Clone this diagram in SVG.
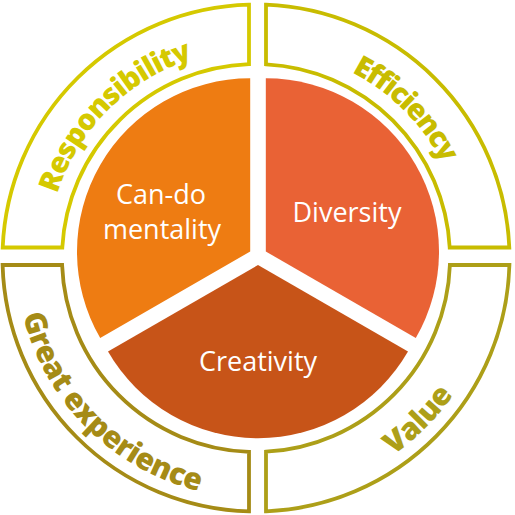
<svg xmlns="http://www.w3.org/2000/svg" width="515" height="515" viewBox="0 0 515 515">
<style>
.ring{fill:#fff;stroke-width:3.8;stroke-linejoin:miter}
.arc{font-family:"Open Sans","Noto Sans",sans-serif;font-weight:800;font-size:30px;letter-spacing:-0.4px}
.top{font-size:29px;letter-spacing:-1px}
.lbl{font-family:"Open Sans","Noto Sans",sans-serif;font-size:27px;fill:#fff;text-anchor:middle}
</style>
<defs>
<path id="pTL" d="M 47 258 A 209 209 0 0 1 256 49"/>
<path id="pTR" d="M 256 49 A 209 209 0 0 1 465 258"/>
<path id="pBL" d="M 16 258 A 240 240 0 0 0 256 498"/>
<path id="pBR" d="M 256 498 A 240 240 0 0 0 496 258"/>
</defs>
<rect width="515" height="515" fill="#fff"/>
<g id="responsibility">
<path class="ring" stroke="#D5C900" d="M 2.7 247.5 A 253.5 253.5 0 0 1 249 4.6 L 249 64.1 A 194 194 0 0 0 62.3 247.5 Z"/>
<text class="arc top" fill="#D5C900"><textPath href="#pTL" startOffset="50%" text-anchor="middle">Responsibility</textPath></text>
</g>
<g id="efficiency">
<path class="ring" stroke="#C8BC00" d="M 266 4.7 A 253.5 253.5 0 0 1 509.3 247.5 L 449.7 247.5 A 194 194 0 0 0 266 64.3 Z"/>
<text class="arc top" fill="#C8BC00" style="letter-spacing:-1.6px"><textPath href="#pTR" startOffset="50%" text-anchor="middle">Efficiency</textPath></text>
</g>
<g id="great-experience">
<path class="ring" stroke="#A58B16" d="M 2.6 265 L 62.1 265 A 194 194 0 0 0 249 451.9 L 249 511.4 A 253.5 253.5 0 0 1 2.6 265 Z"/>
<text class="arc" fill="#A58B16"><textPath href="#pBL" startOffset="50%" text-anchor="middle">Great experience</textPath></text>
</g>
<g id="value">
<path class="ring" stroke="#AD9F18" d="M 449.9 265 L 509.4 265 A 253.5 253.5 0 0 1 266 511.3 L 266 451.7 A 194 194 0 0 0 449.9 265 Z"/>
<text class="arc" fill="#AD9F18"><textPath href="#pBR" startOffset="50%" text-anchor="middle">Value</textPath></text>
</g>
<g id="can-do">
<path fill="#EE7C12" d="M 250.2 251.5 L 250.2 78.3 A 173.2 173.2 0 0 0 100.2 338.1 Z"/>
<text class="lbl" x="161" y="204">Can-do</text>
<text class="lbl" x="162" y="239">mentality</text>
</g>
<g id="diversity">
<path fill="#E96235" d="M 265.8 251.5 L 265.8 78.3 A 173.2 173.2 0 0 1 415.8 338.1 Z"/>
<text class="lbl" x="347" y="222">Diversity</text>
</g>
<g id="creativity">
<path fill="#C75418" d="M 258 265 L 108 351.6 A 173.2 173.2 0 0 0 408 351.6 Z"/>
<text class="lbl" x="258" y="371">Creativity</text>
</g>
<g id="connectors"/>
</svg>
